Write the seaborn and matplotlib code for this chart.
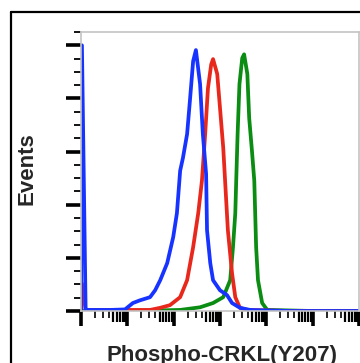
import numpy as np
import pandas as pd
import matplotlib
matplotlib.use("Agg")
import matplotlib.pyplot as plt
from matplotlib.lines import Line2D
import seaborn as sns

# ---- data (log10 intensity, event height) ----
blue_log = [0.0, 0.02, 0.1, 0.30, 0.63, 0.95, 1.12, 1.27, 1.49, 1.60, 1.71, 1.86, 1.99, 2.07,
            2.14, 2.20, 2.29, 2.35, 2.42, 2.48, 2.57, 2.63, 2.70, 2.72, 2.79, 2.85, 3.00,
            3.15, 3.26, 3.43, 3.65, 4.5, 6.0]
blue_ev = [0.0, 5.0, 0.02, 0.02, 0.02, 0.03, 0.15, 0.20, 0.26, 0.39, 0.58, 0.90, 1.39, 1.84,
           2.64, 2.88, 3.33, 3.95, 4.70, 4.91, 4.27, 3.33, 2.58, 1.52, 0.90, 0.58, 0.39,
           0.30, 0.15, 0.06, 0.02, 0.0, 0.0]

red_log = [0.0, 0.02, 0.1, 0.8, 1.49, 1.71, 1.92, 2.14, 2.29, 2.42, 2.53, 2.61, 2.68, 2.74,
           2.81, 2.85, 2.94, 3.00, 3.07, 3.11, 3.17, 3.26, 3.33, 3.43, 3.59, 4.5, 6.0]
red_ev = [0.0, 0.52, 0.02, 0.02, 0.02, 0.06, 0.11, 0.26, 0.58, 1.20, 1.84, 2.45, 3.33, 4.19,
          4.64, 4.74, 4.46, 3.82, 3.07, 2.45, 1.52, 0.71, 0.26, 0.06, 0.02, 0.0, 0.0]

green_log = [0.0, 1.0, 2.14, 2.57, 2.85, 3.07, 3.22, 3.28, 3.33, 3.35, 3.38, 3.42, 3.48, 3.52,
             3.59, 3.63, 3.69, 3.74, 3.78, 3.82, 3.91, 4.02, 5.0, 6.0]
green_ev = [0.0, 0.0, 0.02, 0.07, 0.15, 0.26, 0.58, 1.20, 1.84, 2.45, 3.33, 4.27, 4.76, 4.83,
            4.46, 3.63, 3.01, 2.45, 1.20, 0.58, 0.15, 0.02, 0.0, 0.0]

samples = ["blue", "red", "green"]
colors = {"blue": "#1733ff", "red": "#e8281c", "green": "#0b8c12"}
x_label = "Phospho-CRKL(Y207)"
y_label = "Events"

frames = []
for name, lx, ev in [("blue", blue_log, blue_ev), ("red", red_log, red_ev),
                     ("green", green_log, green_ev)]:
    frames.append(pd.DataFrame({"intensity": 10.0 ** np.array(lx), "events": ev,
                                "sample": name, "order": np.arange(len(lx))}))
df = pd.concat(frames, ignore_index=True)

sns.set_style("white")
plt.rcParams["font.family"] = ["Liberation Sans", "DejaVu Sans"]

fig = plt.figure(figsize=(3.6, 3.63), dpi=100)
ax = fig.add_axes([81 / 360, 1 - 311 / 363, 278 / 360, 279 / 363])

for name in ["green", "red", "blue"]:
    sub = df[df["sample"] == name]
    sns.lineplot(data=sub, x="intensity", y="events", color=colors[name], sort=False,
                 estimator=None, lw=2.7, ax=ax, legend=False)

ax.set_xscale("log")
ax.set_xlim(1, 1e6)
ax.set_ylim(0, 5.25)
ax.set_xlabel("")
ax.set_ylabel("")

# x ticks: decades (major), 2..9 (minor)
ax.set_xticks([10.0 ** k for k in range(0, 7)])
ax.set_xticks([m * 10.0 ** k for k in range(0, 6) for m in range(2, 10)], minor=True)
ax.set_xticklabels([])
ax.set_xticklabels([], minor=True)
ax.tick_params(axis="x", which="major", direction="out", length=11, width=2.6,
               color="black", bottom=True, top=False)
ax.tick_params(axis="x", which="minor", direction="out", length=5, width=1.2,
               color="black", bottom=True, top=False)
# longer ticks at 5..9 per decade
sec = ax.secondary_xaxis("bottom")
sec.set_xticks([m * 10.0 ** k for k in range(0, 6) for m in range(5, 10)])
sec.set_xticklabels([])
sec.tick_params(axis="x", which="major", direction="out", length=8, width=1.6, color="black")
sec.tick_params(axis="x", which="minor", length=0)
sec.spines["bottom"].set_visible(False)

# y ticks
ax.set_yticks(np.arange(0, 6, 1))
ax.set_yticks(np.arange(0, 5.26, 0.25), minor=True)
ax.set_yticklabels([])
ax.tick_params(axis="y", which="major", direction="out", length=11, width=2.6,
               color="black", left=True, right=False)
ax.tick_params(axis="y", which="minor", direction="out", length=5, width=1.3,
               color="black", left=True, right=False)

for s in ax.spines.values():
    s.set_color("#c4c4c4")
    s.set_linewidth(1.2)

# outer frame
fx = 11 / 360
fy = 1 - 12 / 363
fig.add_artist(Line2D([fx, fx], [-0.1, fy], transform=fig.transFigure, color="black", lw=1.6))
fig.add_artist(Line2D([fx, 1.1], [fy, fy], transform=fig.transFigure, color="black", lw=1.6))

fig.text(222 / 360, 2 / 363, x_label, fontsize=16, fontweight="bold", ha="center",
         va="baseline")
fig.text(32 / 360, 1 - 169 / 363, y_label, fontsize=16, fontweight="bold", ha="center",
         va="baseline", rotation=90, rotation_mode="anchor")

fig.savefig("out.png", dpi=100)
